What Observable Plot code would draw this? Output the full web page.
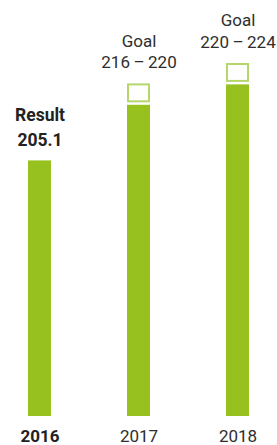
<!DOCTYPE html>
<html>
<head>
<meta charset="utf-8">
<script src="https://cdn.jsdelivr.net/npm/d3@7"></script>
<script src="https://cdn.jsdelivr.net/npm/@observablehq/plot@0.6"></script>
<style>
  html, body { margin: 0; padding: 0; background: #fff; }
  #chart svg { display: block; }
</style>
</head>
<body>
<div id="chart"></div>
<script>
// Data
const years = ["2016", "2017", "2018"];
const barValues = [205.1, 216, 220];
const goalLow = [null, 216, 220];
const goalHigh = [null, 220, 224];
const topLine = ["Result", "Goal", "Goal"];
const bottomLine = ["205.1", "216\u2009\u2013\u2009220", "220\u2009\u2013\u2009224"];
const boldYears = ["2016"];

const rows = years.map((y, i) => ({
  year: y, value: barValues[i], low: goalLow[i], high: goalHigh[i],
  label: topLine[i] + "\n" + bottomLine[i], bold: boldYears.includes(y)
}));
const goals = rows.filter(d => d.low != null);
const result = rows.filter(d => d.low == null);

const green = "#96c11f";
const lightGreen = "#b5d66a";
const textColor = "#2e2e2e";

const chart = Plot.plot({
  width: 277,
  height: 445,
  marginTop: 64,
  marginBottom: 29,
  marginLeft: 0,
  marginRight: 0,
  style: { fontFamily: "Roboto, sans-serif", background: "#fff" },
  x: { domain: years, paddingInner: 0.77, paddingOuter: 0.277, axis: null },
  y: { domain: [155, 224], axis: null },
  marks: [
    Plot.barY(rows, { x: "year", y1: 155, y2: "value", fill: green }),
    Plot.rect(goals, { x: "year", y1: "low", y2: "high", fill: "#fff", stroke: lightGreen, strokeWidth: 2, insetLeft: 1, insetRight: 1, insetTop: 0, insetBottom: 3.5 }),
    Plot.text(goals, { x: "year", y: "high", text: "label", lineAnchor: "bottom", lineHeight: 1.25, dy: -17, fontSize: 17, fill: textColor }),
    Plot.text(result, { x: "year", y: "value", text: "label", lineAnchor: "bottom", lineHeight: 1.45, dy: -15, fontSize: 17.5, fontWeight: "bold", fill: "#222" }),
    Plot.text(rows.filter(d => d.bold), { x: "year", frameAnchor: "bottom", text: "year", lineAnchor: "bottom", dy: 25, fontSize: 17, fontWeight: "bold", fill: "#222" }),
    Plot.text(rows.filter(d => !d.bold), { x: "year", frameAnchor: "bottom", text: "year", lineAnchor: "bottom", dy: 25, fontSize: 17, fill: textColor })
  ]
});
document.getElementById("chart").appendChild(chart);
</script>
</body>
</html>
